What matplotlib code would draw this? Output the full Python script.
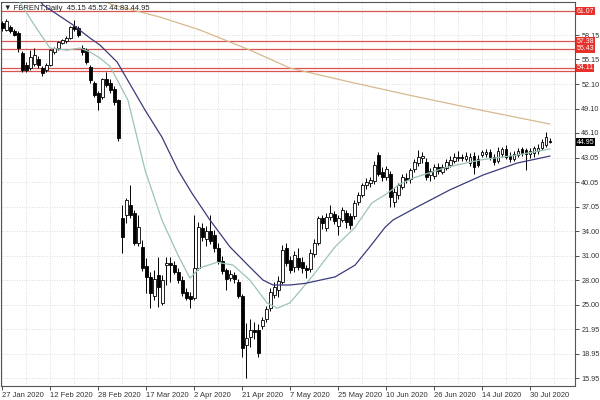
import matplotlib
matplotlib.use("Agg")
import matplotlib.pyplot as plt
import matplotlib.transforms as mtransforms
import numpy as np

plt.rcParams["font.family"] = ["Liberation Sans", "DejaVu Sans"]

# daily OHLC, one value per bar (27 Jan 2020 .. 6 Aug 2020)
opens = [59.6, 58.8, 59.1, 58.6, 58.4, 55.9, 54.5, 54.1, 54.6, 55.2, 54.1, 53.9, 54.5, 56.0, 56.6, 57.2,
         57.4, 57.8, 59.25, 59.0, 56.6, 56.3, 54.2, 52.2, 51.0, 50.5, 52.7, 52.2, 51.5, 50.1, 35.6, 36.0,
         37.2, 36.3, 32.6, 32.1, 29.8, 28.4, 26.0, 28.6, 25.2, 29.9, 30.1, 29.9, 29.0, 28.0, 26.5, 26.0,
         25.8, 29.5, 34.4, 33.0, 34.0, 33.6, 32.0, 30.4, 29.2, 28.3, 28.6, 27.8, 26.0, 20.0, 21.0, 21.9,
         21.9, 22.4, 23.2, 24.6, 26.2, 26.8, 27.8, 32.0, 30.5, 29.6, 30.7, 30.2, 29.5, 29.4, 31.2, 32.6,
         35.6, 34.4, 35.8, 36.1, 34.6, 35.4, 36.2, 35.9, 35.9, 37.6, 38.5, 39.7, 39.9, 40.2, 43.4, 41.3,
         40.7, 41.0, 37.6, 38.5, 39.5, 40.6, 40.4, 41.7, 42.4, 43.0, 42.5, 40.9, 40.8, 41.9, 41.3, 41.8,
         42.2, 42.7, 43.0, 43.1, 42.9, 42.4, 43.3, 42.9, 43.4, 43.5, 43.7, 43.1, 42.7, 43.5, 44.1, 43.3,
         42.9, 43.4, 44.1, 44.0, 43.5, 43.6, 43.9, 44.3, 44.6, 45.15]
highs = [59.9, 60.1, 59.4, 58.9, 58.7, 56.2, 54.8, 56.3, 56.5, 55.6, 54.3, 54.7, 56.4, 56.7, 57.4, 57.7,
         58.0, 59.3, 60.0, 59.2, 56.9, 56.6, 54.5, 52.5, 51.3, 52.9, 53.6, 52.8, 51.9, 50.3, 37.2, 38.1,
         39.7, 36.6, 36.0, 32.9, 30.7, 29.0, 29.2, 30.8, 28.6, 30.8, 30.8, 30.4, 29.5, 28.5, 27.0, 26.5,
         36.0, 35.1, 35.0, 34.6, 36.0, 34.2, 32.6, 31.0, 29.5, 29.2, 29.0, 28.2, 26.3, 22.7, 23.2, 22.8,
         22.6, 23.5, 24.8, 27.0, 27.8, 28.5, 32.3, 32.6, 31.0, 31.6, 32.0, 30.8, 29.9, 31.8, 33.0, 35.9,
         36.0, 36.2, 37.2, 36.5, 36.0, 37.0, 36.6, 36.2, 37.8, 38.8, 40.0, 40.6, 40.7, 42.6, 43.7, 41.9,
         42.1, 41.4, 39.3, 40.0, 41.1, 41.2, 41.8, 42.9, 44.0, 43.8, 43.0, 41.8, 42.3, 42.4, 42.3, 42.9,
         43.3, 43.6, 43.9, 43.5, 43.7, 43.6, 43.8, 43.4, 44.0, 44.1, 44.1, 43.5, 44.4, 44.4, 44.6, 43.8,
         43.9, 44.3, 44.4, 44.3, 44.2, 44.5, 44.7, 45.3, 46.2, 45.52]
lows = [58.6, 58.6, 58.4, 58.0, 56.0, 53.6, 53.6, 53.9, 54.3, 54.1, 53.1, 53.6, 54.3, 55.8, 56.3, 57.0,
        57.2, 57.6, 58.7, 57.9, 55.7, 54.6, 52.3, 50.5, 48.9, 50.3, 51.8, 51.0, 49.6, 45.1, 31.35, 35.0,
        35.6, 32.3, 32.2, 29.1, 26.4, 24.6, 25.5, 24.7, 24.9, 27.4, 27.8, 28.7, 27.6, 26.0, 25.5, 24.6,
        25.55, 29.2, 32.8, 32.2, 32.4, 31.5, 30.0, 28.7, 26.8, 27.9, 27.6, 25.8, 18.5, 15.95, 19.8, 20.7,
        18.5, 22.0, 22.9, 24.2, 25.8, 25.9, 27.5, 29.8, 28.9, 29.0, 29.3, 28.9, 28.3, 29.0, 30.9, 32.3,
        34.3, 34.0, 35.4, 34.9, 33.5, 35.1, 34.4, 34.3, 35.5, 37.2, 38.2, 39.2, 39.4, 39.8, 40.8, 40.2,
        40.3, 37.0, 37.0, 38.0, 39.2, 39.9, 40.0, 41.3, 42.0, 42.4, 40.3, 40.2, 40.5, 41.1, 41.0, 41.5,
        41.9, 42.4, 42.6, 42.6, 42.6, 42.1, 41.0, 41.9, 43.1, 43.1, 42.8, 42.2, 42.4, 43.2, 42.9, 42.5,
        42.6, 43.1, 43.3, 41.55, 43.0, 43.2, 43.5, 44.0, 44.4, 44.83]
closes = [59.0, 59.9, 58.6, 58.15, 56.5, 53.9, 53.9, 55.4, 55.7, 54.5, 53.5, 54.5, 56.3, 56.6, 57.3, 57.5,
          57.8, 59.1, 58.9, 58.15, 56.0, 54.8, 52.6, 50.8, 49.9, 52.7, 52.0, 51.4, 49.9, 45.5, 33.3, 37.85,
          36.0, 32.6, 34.5, 29.5, 28.4, 26.4, 28.2, 27.2, 28.0, 30.1, 29.9, 29.0, 28.0, 26.4, 25.8, 25.7,
          29.5, 34.5, 33.3, 34.0, 32.8, 31.9, 30.3, 29.1, 28.2, 28.7, 28.2, 26.0, 19.7, 20.9, 21.9, 21.6,
          19.0, 23.1, 24.4, 26.5, 27.2, 27.9, 31.7, 30.1, 29.2, 31.1, 29.6, 29.5, 29.2, 31.3, 32.6, 35.6,
          35.0, 35.8, 36.3, 35.3, 35.6, 36.6, 35.1, 34.8, 37.5, 38.5, 39.7, 40.1, 40.3, 42.2, 41.0, 40.7,
          41.7, 38.2, 38.8, 39.7, 40.7, 40.3, 41.5, 42.5, 43.1, 43.3, 40.7, 41.4, 41.9, 41.4, 41.9, 42.5,
          42.8, 43.1, 43.1, 43.0, 43.3, 43.2, 41.9, 42.2, 43.75, 43.7, 43.1, 42.5, 43.9, 44.1, 43.1, 42.9,
          43.5, 43.9, 43.6, 43.5, 43.9, 44.2, 44.3, 45.0, 45.6, 44.95]

# moving averages at sample bars
fast_ma_bar = [3.2, 7.7, 11.9, 16.2, 19.4, 21.9, 24.4, 26.9, 31.4, 35.7, 39.9, 43.9, 46.9, 49.4, 53.7,
               57.7, 61.9, 66.2, 68.7, 71.9, 77.4, 83.2, 88.2, 92.4, 95.7, 99.4, 102.7, 111.2, 119.4,
               128.7, 136.9]
fast_ma_val = [63.1, 59.6, 56.55, 56.3, 56.55, 56.06, 55.32, 54.3, 50.15, 41.5, 35.4, 31.1, 28.25, 29.5,
               30.2, 29.85, 28.0, 25.2, 24.55, 25.2, 28.4, 32.1, 34.5, 37.5, 38.5, 39.8, 40.55, 41.9,
               42.77, 43.39, 44.13]
slow_ma_bar = [8.2, 10.2, 17.7, 21.9, 24.4, 28.7, 35.7, 39.9, 43.9, 47.4, 51.9, 56.9, 61.9, 65.2, 67.7,
               71.9, 75.7, 83.2, 88.2, 91.9, 95.7, 97.7, 103.7, 111.9, 120.2, 128.7, 136.9]
slow_ma_val = [63.07, 61.84, 59.38, 57.78, 56.92, 54.83, 48.9, 45.6, 41.55, 38.7, 35.4, 32.1, 29.6, 28.0,
               27.4, 27.4, 27.6, 28.4, 29.85, 32.1, 34.5, 35.4, 37.0, 39.1, 40.93, 42.4, 43.26]
long_ma_bar = [23.2, 27.7, 39.4, 49.4, 61.9, 71.9, 86.9, 102.7, 119.4, 136.9]
long_ma_val = [62.8, 61.84, 60.36, 58.77, 56.3, 54.09, 52.37, 50.65, 48.93, 47.2]

date_labels = ["27 Jan 2020", "12 Feb 2020", "28 Feb 2020", "17 Mar 2020", "2 Apr 2020", "21 Apr 2020",
               "7 May 2020", "25 May 2020", "10 Jun 2020", "26 Jun 2020", "14 Jul 2020", "30 Jul 2020"]
price_ticks = [58.15, 55.15, 52.10, 49.10, 46.10, 43.05, 40.05, 37.05, 34.00, 31.00, 28.00, 25.00,
               21.95, 18.95, 15.95]
levels = [61.07, 57.38, 56.43, 54.11, 53.70]
level_labels = ["61.07", "57.38", "56.43", "54.11", ""]
last_price = 44.95

o = np.array(opens); h = np.array(highs); l = np.array(lows); c = np.array(closes)
x = np.arange(len(o))

fig = plt.figure(figsize=(6, 4), dpi=100)
ax = fig.add_axes([0.0017, 0.035, 0.9567, 0.96])
ax.set_xlim(-0.33, 143.2)
ax.set_ylim(14.98, 62.21)

# grid
ax.hlines(price_ticks, -1, 150, colors="#cfcfcf", linestyles=(0, (1, 2)), lw=0.6, zorder=0)
ax.vlines(np.arange(0, 144, 6), 0, 70, colors="#cfcfcf", linestyles=(0, (1, 2)), lw=0.6, zorder=0)

# horizontal levels
ax.hlines(levels, -1, 150, colors="#d9534f", lw=0.9, zorder=1)

# candles
ax.vlines(x, l, h, colors="black", lw=0.7, zorder=3)
body_lo = np.minimum(o, c)
body_h = np.maximum(np.abs(c - o), 0.08)
fill = np.where(c >= o, "white", "black")
ax.bar(x, body_h, bottom=body_lo, width=0.62, color=fill, edgecolor="black", linewidth=0.6, zorder=4)

# moving averages
ax.plot(long_ma_bar, long_ma_val, color="#d8b98e", lw=0.9, zorder=2)
ax.plot(fast_ma_bar, fast_ma_val, color="#9cc4b6", lw=0.9, zorder=5)
ax.plot(slow_ma_bar, slow_ma_val, color="#3b3b7a", lw=0.9, zorder=5)

# axes styling
ax.yaxis.tick_right()
ax.set_yticks(price_ticks)
ax.set_yticklabels([f"{v:.2f}" for v in price_ticks])
ax.tick_params(axis="y", length=3, width=0.6, labelsize=5.2, colors="#333333", pad=1.5)
ax.set_xticks(np.arange(0, 12 * len(date_labels), 12))
ax.set_xticklabels(date_labels)
ax.tick_params(axis="x", length=3, width=0.6, labelsize=5.5, colors="#333333", pad=1)
for lbl in ax.get_xticklabels():
    lbl.set_ha("left")
for s in ax.spines.values():
    s.set_color("#555555")
    s.set_linewidth(0.8)

trans = mtransforms.blended_transform_factory(ax.transAxes, ax.transData)
for lv, txt in zip(levels, level_labels):
    if txt:
        ax.text(1.003, lv, txt, transform=trans, fontsize=5.0, color="white", va="center", ha="left",
                bbox=dict(boxstyle="square,pad=0.08", fc="#e8312b", ec="none"), clip_on=False)
ax.text(1.003, last_price, f"{last_price:.2f}", transform=trans, fontsize=5.0, color="white", va="center",
        ha="left", bbox=dict(boxstyle="square,pad=0.08", fc="black", ec="none"), clip_on=False)

ax.text(0.006, 0.992, "\u25bc FBRENT,Daily  45.15 45.52 44.83 44.95", transform=ax.transAxes,
        fontsize=5.5, color="#222222", va="top", ha="left")

fig.savefig("out.png", dpi=100)
